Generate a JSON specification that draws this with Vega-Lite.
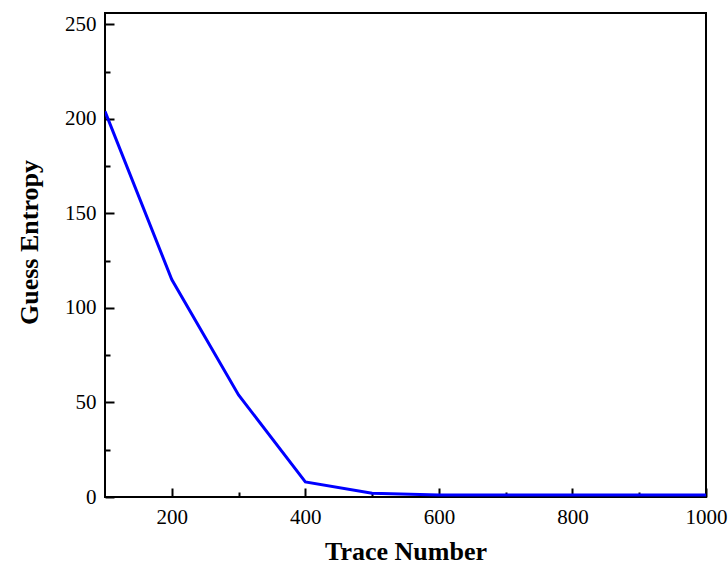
{
  "$schema": "https://vega.github.io/schema/vega-lite/v6.json",
  "width": 601,
  "height": 484,
  "autosize": {"type": "none"},
  "padding": {"left": 105, "top": 13, "right": 22, "bottom": 68},
  "background": "white",
  "config": {
    "view": {"stroke": "black", "strokeWidth": 2},
    "axis": {"grid": false, "domain": false, "labelFont": "Liberation Serif", "titleFont": "Liberation Serif", "labelColor": "black", "titleColor": "black", "tickColor": "black"}
  },
  "data": {"values": [
    {"trace": 100, "ge": 204},
    {"trace": 200, "ge": 115},
    {"trace": 300, "ge": 54},
    {"trace": 400, "ge": 8},
    {"trace": 500, "ge": 2},
    {"trace": 600, "ge": 1},
    {"trace": 700, "ge": 1},
    {"trace": 800, "ge": 1},
    {"trace": 900, "ge": 1},
    {"trace": 1000, "ge": 1}
  ]},
  "resolve": {"axis": {"x": "independent", "y": "independent"}},
  "layer": [
    {
      "mark": {"type": "line", "color": "#0000ff", "strokeWidth": 3, "clip": true},
      "encoding": {
        "x": {"field": "trace", "type": "quantitative", "scale": {"domain": [100, 1000], "nice": false, "zero": false},
          "axis": {"orient": "bottom", "title": "Trace Number", "format": "d", "values": [200, 400, 600, 800, 1000], "ticks": false, "labelFontSize": 21, "labelPadding": 9, "titleFontSize": 26, "titleFontWeight": "bold", "titlePadding": 11, "labelFlush": false, "labelOverlap": false}},
        "y": {"field": "ge", "type": "quantitative", "scale": {"domain": [0, 256], "nice": false},
          "axis": {"orient": "left", "title": "Guess Entropy", "titleY": 229, "values": [0, 50, 100, 150, 200, 250], "ticks": false, "labelFontSize": 21, "labelPadding": 9, "titleFontSize": 26, "titleFontWeight": "bold", "titlePadding": 22, "labelFlush": false, "labelOverlap": false}}
      }
    },
    {
      "mark": {"type": "line", "strokeOpacity": 0},
      "encoding": {
        "x": {"field": "trace", "type": "quantitative",
          "axis": {"orient": "bottom", "title": null, "labels": false, "values": [200, 400, 600, 800, 1000], "tickSize": -9, "tickWidth": 2}},
        "y": {"field": "ge", "type": "quantitative",
          "axis": {"orient": "left", "title": null, "labels": false, "values": [0, 50, 100, 150, 200, 250], "tickSize": -9, "tickWidth": 2}}
      }
    },
    {
      "mark": {"type": "line", "strokeOpacity": 0},
      "encoding": {
        "x": {"field": "trace", "type": "quantitative",
          "axis": {"orient": "bottom", "title": null, "labels": false, "values": [300, 500, 700, 900], "tickSize": -5, "tickWidth": 2}},
        "y": {"field": "ge", "type": "quantitative",
          "axis": {"orient": "left", "title": null, "labels": false, "values": [25, 75, 125, 175, 225], "tickSize": -5, "tickWidth": 2}}
      }
    }
  ]
}
